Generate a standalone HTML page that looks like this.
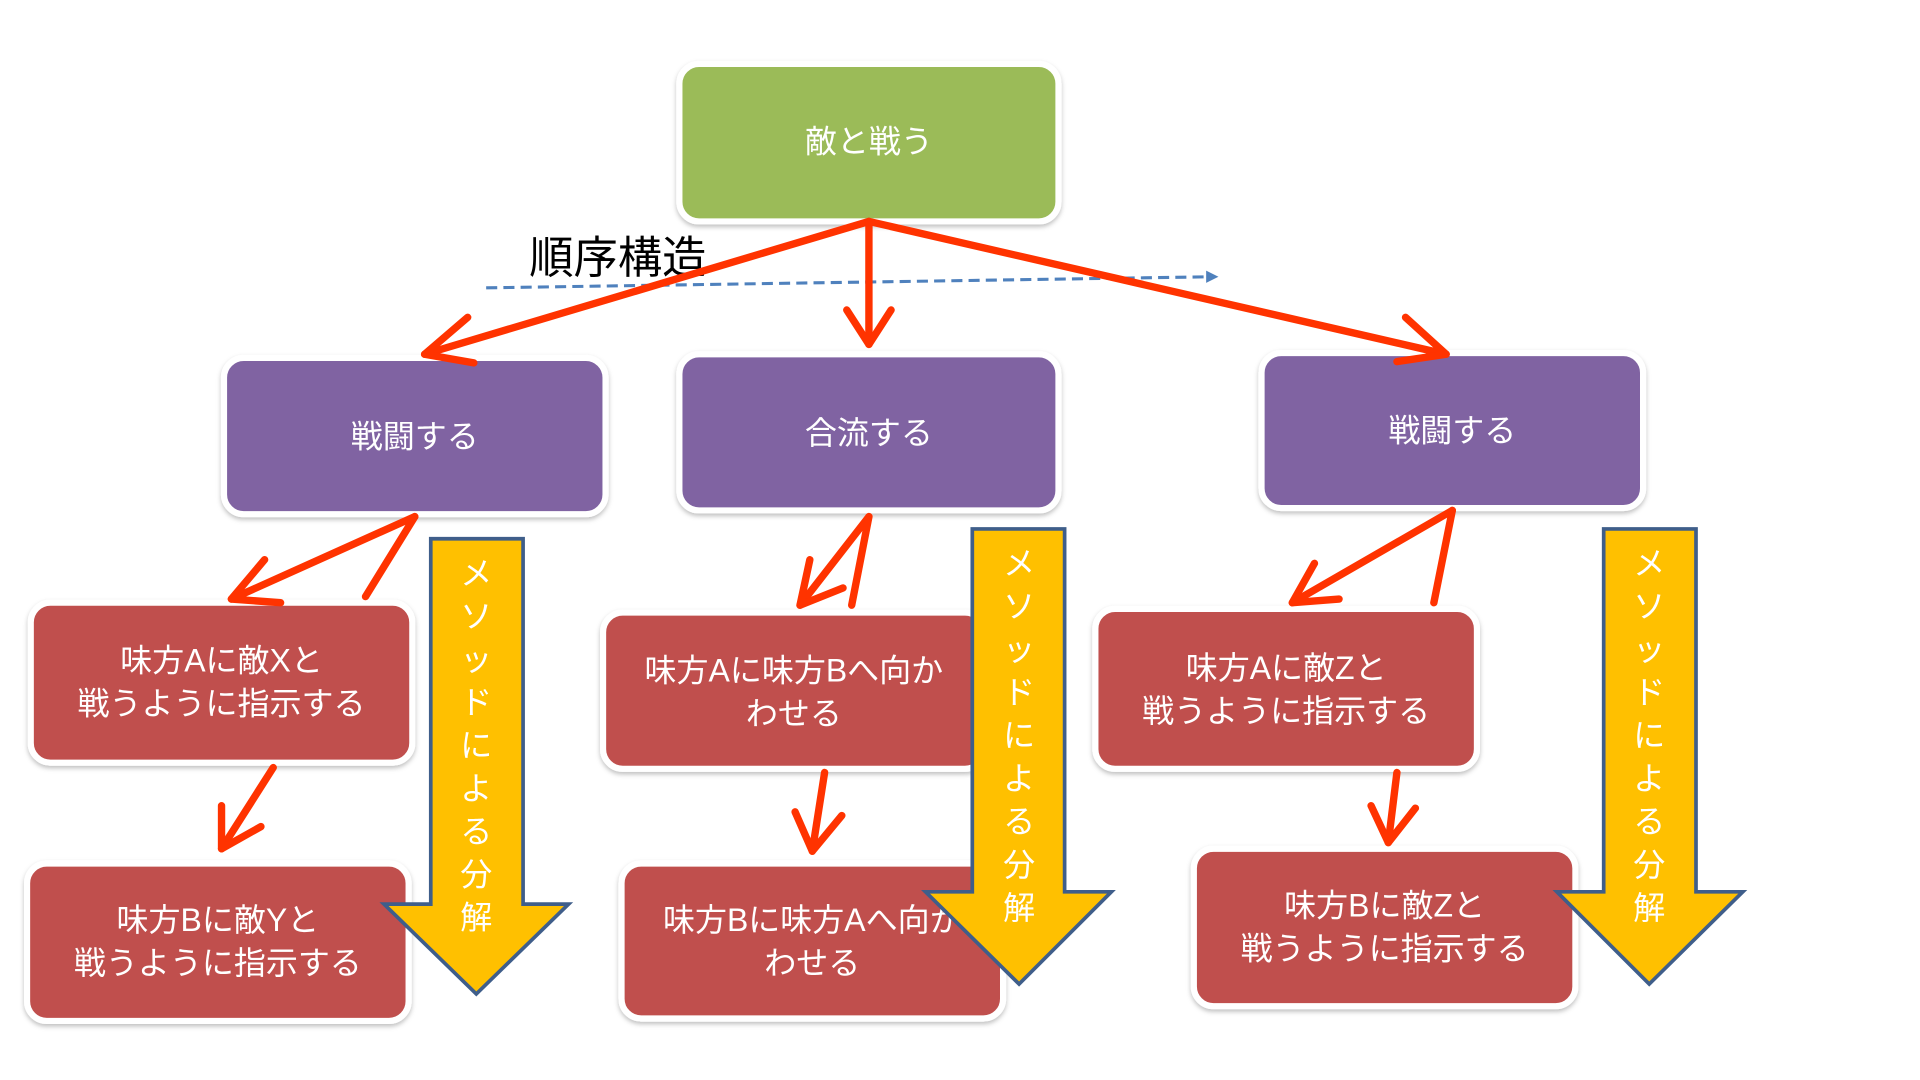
<!DOCTYPE html>
<html><head><meta charset="utf-8"><style>
html,body{margin:0;padding:0;background:#fff;}
svg{display:block;}
text{font-family:"Liberation Sans","Noto Sans CJK JP",sans-serif;}
</style></head><body>
<svg width="1920" height="1080" viewBox="0 0 1560 878" preserveAspectRatio="none" xmlns="http://www.w3.org/2000/svg">
<defs>
<filter id="sh" x="-10%" y="-10%" width="120%" height="130%"><feDropShadow dx="0" dy="2" stdDeviation="2" flood-color="#000" flood-opacity="0.25"/></filter>
</defs>
<g stroke="#fff" stroke-width="5" filter="url(#sh)">
<rect x="552" y="52" width="308" height="128" rx="16" fill="#9BBB59"/>
<rect x="182" y="291" width="310" height="127" rx="16" fill="#8064A2"/>
<rect x="552" y="288" width="308" height="127" rx="16" fill="#8064A2"/>
<rect x="1025" y="287" width="310" height="126" rx="16" fill="#8064A2"/>
<rect x="25" y="490" width="310" height="130" rx="16" fill="#C0504D"/>
<rect x="22" y="702" width="310" height="128" rx="16" fill="#C0504D"/>
<rect x="490" y="498" width="310" height="127" rx="16" fill="#C0504D"/>
<rect x="505" y="702" width="310" height="126" rx="16" fill="#C0504D"/>
<rect x="890" y="495" width="310" height="130" rx="16" fill="#C0504D"/>
<rect x="970" y="690" width="310" height="128" rx="16" fill="#C0504D"/>
</g>
<g fill="#fff" font-size="26" text-anchor="middle">
<text x="706" y="124">敵と戦う</text>
<text x="337" y="364">戦闘する</text>
<text x="706" y="361">合流する</text>
<text x="1180" y="359">戦闘する</text>
<text x="180" y="546">味方Aに敵Xと</text><text x="180" y="581">戦うように指示する</text>
<text x="177" y="757">味方Bに敵Yと</text><text x="177" y="792">戦うように指示する</text>
<text x="645" y="554">味方Aに味方Bへ向か</text><text x="645" y="589">わせる</text>
<text x="660" y="757">味方Bに味方Aへ向か</text><text x="660" y="792">わせる</text>
<text x="1045" y="552">味方Aに敵Zと</text><text x="1045" y="587">戦うように指示する</text>
<text x="1125" y="745">味方Bに敵Zと</text><text x="1125" y="780">戦うように指示する</text>
</g>
<!-- yellow arrows -->
<g fill="#FFC000" stroke="#3F5E8A" stroke-width="3">
<polygon points="350,438 425,438 425,735 462,735 387,808 312,735 350,735"/>
<polygon points="790,430 865,430 865,725 903,725 828,800 752,725 790,725"/>
<polygon points="1303,430 1378,430 1378,725 1416,725 1340,800 1265,725 1303,725"/>
</g>
<g fill="#fff" font-size="26" text-anchor="middle">
<text x="387" y="475">メ</text><text x="387" y="510">ソ</text><text x="387" y="545">ッ</text><text x="387" y="580">ド</text><text x="387" y="615">に</text><text x="387" y="650">よ</text><text x="387" y="685">る</text><text x="387" y="720">分</text><text x="387" y="755">解</text>
<text x="828" y="467">メ</text><text x="828" y="502">ソ</text><text x="828" y="537">ッ</text><text x="828" y="572">ド</text><text x="828" y="607">に</text><text x="828" y="642">よ</text><text x="828" y="677">る</text><text x="828" y="712">分</text><text x="828" y="747">解</text>
<text x="1340" y="467">メ</text><text x="1340" y="502">ソ</text><text x="1340" y="537">ッ</text><text x="1340" y="572">ド</text><text x="1340" y="607">に</text><text x="1340" y="642">よ</text><text x="1340" y="677">る</text><text x="1340" y="712">分</text><text x="1340" y="747">解</text>
</g>
<!-- dashed line -->
<line x1="395" y1="234" x2="985" y2="225" stroke="#4F81BD" stroke-width="2.5" stroke-dasharray="9,5"/>
<polygon points="990,225 980,220 980,230" fill="#4F81BD"/>
<text x="430" y="222" font-size="36" fill="#000">順序構造</text>
<!-- red connectors -->
<g stroke="#FF3300" stroke-width="6" fill="none" stroke-linecap="round" stroke-linejoin="round">
<line x1="706" y1="180" x2="345" y2="288"/><polyline points="380,258 345,288 385,295"/>
<line x1="706" y1="180" x2="706" y2="280"/><polyline points="688,252 706,280 724,252"/>
<line x1="706" y1="180" x2="1175" y2="288"/><polyline points="1142,258 1175,288 1135,294"/>
<line x1="337" y1="420" x2="188" y2="487"/><polyline points="215,455 188,487 228,490"/>
<line x1="337" y1="420" x2="297" y2="485"/>
<line x1="222" y1="624" x2="180" y2="690"/><polyline points="180,655 180,690 212,672"/>
<line x1="706" y1="420" x2="650" y2="492"/><polyline points="658,455 650,492 685,478"/>
<line x1="706" y1="420" x2="692" y2="492"/>
<line x1="670" y1="628" x2="660" y2="692"/><polyline points="646,660 660,692 684,663"/>
<line x1="1180" y1="415" x2="1050" y2="490"/><polyline points="1068,458 1050,490 1088,487"/>
<line x1="1180" y1="415" x2="1165" y2="490"/>
<line x1="1135" y1="628" x2="1128" y2="685"/><polyline points="1114,655 1128,685 1150,657"/>
</g>
</svg>
</body></html>
